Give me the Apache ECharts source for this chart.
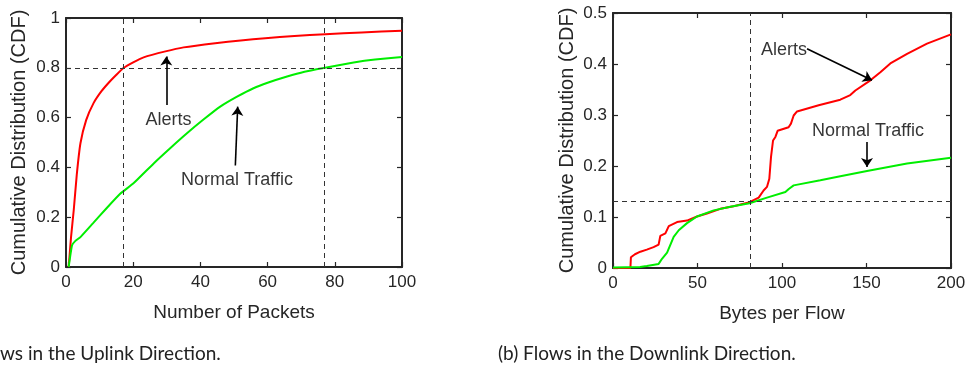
<!DOCTYPE html>
<html>
<head>
<meta charset="utf-8">
<script src="https://cdn.jsdelivr.net/npm/echarts@6/dist/echarts.min.js"></script>
<style>
  html, body { margin: 0; padding: 0; background: #fff; }
  #chart { width: 971px; height: 366px; }
</style>
</head>
<body>
<div id="chart"></div>
<script>
// (a) uplink: number of packets
const alertsUpX = [0.8, 1.5, 2.3, 3.2, 4.3, 6, 8.2, 10.5, 12.7, 15, 17.1, 20, 23.1, 29.6, 35, 44.4, 52, 59.3, 68, 77.2, 88, 100];
const alertsUpY = [0, 0.12, 0.228, 0.37, 0.497, 0.59, 0.658, 0.705, 0.74, 0.772, 0.799, 0.822, 0.842, 0.866, 0.882, 0.899, 0.91, 0.919, 0.928, 0.935, 0.942, 0.949];
const normalUpX = [0.8, 1.8, 2.8, 4.3, 8, 12, 16.2, 20, 26.1, 31, 36, 41, 45.9, 50.9, 55.8, 60, 65.8, 71, 76.7, 85.6, 92, 100];
const normalUpY = [0, 0.087, 0.105, 0.12, 0.175, 0.235, 0.295, 0.335, 0.416, 0.477, 0.537, 0.593, 0.644, 0.684, 0.718, 0.74, 0.765, 0.784, 0.799, 0.821, 0.833, 0.843];
const upRefX = [17, 77];
const upRefY = [0.8];
const upNotes = ['Alerts', 'Normal Traffic'];
const upNoteX = [30.5, 50.9];
const upNoteY = [0.59, 0.349];
const upArrows = [[[29.85, 0.651], [29.85, 0.845]], [[50.4, 0.408], [51.1, 0.644]]];

// (b) downlink: bytes per flow
const alertsDnX = [0, 10.3, 10.6, 13, 16.2, 20, 24, 27, 28, 31, 33, 37.9, 43.8, 49.7, 55.6, 63.5, 71.4, 80.8, 86.2, 89.1, 91.1, 92.5, 93.5, 94.7, 96.1, 97.4, 103.9, 105.3, 106.9, 108.9, 121.7, 134.5, 140.4, 143.4, 152.3, 158.2, 164.1, 174, 185.8, 200];
const alertsDnY = [0, 0, 0.021, 0.027, 0.032, 0.036, 0.041, 0.046, 0.063, 0.068, 0.082, 0.09, 0.093, 0.101, 0.107, 0.116, 0.121, 0.129, 0.138, 0.152, 0.159, 0.175, 0.218, 0.25, 0.257, 0.269, 0.276, 0.283, 0.299, 0.307, 0.319, 0.33, 0.339, 0.348, 0.368, 0.384, 0.401, 0.42, 0.44, 0.458];
const normalDnX = [0, 16, 20, 27, 29, 32, 35.9, 38.9, 43.8, 49.7, 59.6, 69.4, 80.8, 91.1, 102, 104, 106.9, 122.7, 134.5, 150.3, 174, 200];
const normalDnY = [0.001, 0.002, 0.004, 0.008, 0.018, 0.03, 0.061, 0.074, 0.088, 0.101, 0.113, 0.12, 0.127, 0.138, 0.149, 0.155, 0.162, 0.172, 0.18, 0.19, 0.205, 0.216];
const dnRefX = [81];
const dnRefY = [0.128];
const dnNotes = ['Alerts', 'Normal Traffic'];
const dnNoteX = [101.2, 150.9];
const dnNoteY = [0.427, 0.269];
const dnArrows = [[[114.8, 0.43], [153.3, 0.368]], [[150.3, 0.247], [150.3, 0.198]]];

const captionA = 'ws in the Uplink Direction.';
const captionB = '(b) Flows in the Downlink Direction.';

const axisColor = '#262626';
const font = '"Liberation Sans", Arial, Helvetica, sans-serif';

function zip(xs, ys) {
  return xs.map((x, i) => [x, ys[i]]);
}

function xAxes(grid, max, interval, name) {
  const common = {
    gridIndex: grid, type: 'value', min: 0, max: max, interval: interval,
    axisLine: { show: true, onZero: false, lineStyle: { color: axisColor, width: 2 } },
    axisTick: { show: true, inside: true, length: 5, lineStyle: { color: axisColor, width: 1.2 } },
    splitLine: { show: false }
  };
  return [
    Object.assign({}, common, {
      position: 'bottom',
      axisLabel: { color: axisColor, fontSize: 17, fontFamily: font, margin: 7 },
      name: name, nameLocation: 'middle', nameGap: 36,
      nameTextStyle: { color: axisColor, fontSize: 19, fontFamily: font }
    }),
    Object.assign({}, common, { position: 'top', axisLabel: { show: false } })
  ];
}

function yAxes(grid, max, interval, gap) {
  const common = {
    gridIndex: grid, type: 'value', min: 0, max: max, interval: interval,
    axisLine: { show: true, onZero: false, lineStyle: { color: axisColor, width: 2 } },
    axisTick: { show: true, inside: true, length: 5, lineStyle: { color: axisColor, width: 1.2 } },
    splitLine: { show: false }
  };
  return [
    Object.assign({}, common, {
      position: 'left',
      axisLabel: { color: axisColor, fontSize: 17, fontFamily: font, margin: 6 },
      name: 'Cumulative Distribution (CDF)', nameLocation: 'middle', nameGap: gap,
      nameTextStyle: { color: axisColor, fontSize: 20, fontFamily: font }
    }),
    Object.assign({}, common, { position: 'right', axisLabel: { show: false } })
  ];
}

function curve(xi, yi, xs, ys, color, smooth) {
  return {
    type: 'line', xAxisIndex: xi, yAxisIndex: yi, data: zip(xs, ys),
    showSymbol: false, smooth: smooth,
    lineStyle: { color: color, width: 2 }, z: 3
  };
}

function refLines(xi, yi, xs, ys) {
  const data = xs.map(v => ({ xAxis: v })).concat(ys.map(v => ({ yAxis: v })));
  return {
    type: 'line', xAxisIndex: xi, yAxisIndex: yi, data: [],
    markLine: {
      silent: true, symbol: ['none', 'none'], label: { show: false },
      lineStyle: { color: '#333', type: [5, 4], width: 1 },
      data: data
    }
  };
}

function notes(xi, yi, names, xs, ys, arrows) {
  return {
    type: 'scatter', xAxisIndex: xi, yAxisIndex: yi, symbolSize: 0, z: 5,
    data: names.map((n, i) => ({ name: n, value: [xs[i], ys[i]] })),
    label: {
      show: true, position: 'inside', formatter: '{b}',
      color: '#000', fontSize: 18, fontFamily: font
    },
    markLine: {
      silent: true, symbol: ['none', 'arrow'], symbolSize: 9, label: { show: false },
      lineStyle: { color: '#000', type: 'solid', width: 1.6 },
      data: arrows.map(a => [{ coord: a[0] }, { coord: a[1] }])
    }
  };
}

const chart = echarts.init(document.getElementById('chart'), null, { renderer: 'canvas' });
chart.setOption({
  animation: false,
  backgroundColor: '#fff',
  grid: [
    { left: 66, top: 18, width: 336, height: 249 },
    { left: 613, top: 13, width: 338, height: 255 }
  ],
  xAxis: xAxes(0, 100, 20, 'Number of Packets').concat(xAxes(1, 200, 50, 'Bytes per Flow')),
  yAxis: yAxes(0, 1, 0.2, 37).concat(yAxes(1, 0.5, 0.1, 36)),
  series: [
    refLines(0, 0, upRefX, upRefY),
    curve(0, 0, alertsUpX, alertsUpY, '#ff0000', 0.15),
    curve(0, 0, normalUpX, normalUpY, '#00ee00', 0.15),
    notes(0, 0, upNotes, upNoteX, upNoteY, upArrows),
    refLines(2, 2, dnRefX, dnRefY),
    curve(2, 2, alertsDnX, alertsDnY, '#ff0000', false),
    curve(2, 2, normalDnX, normalDnY, '#00ee00', false),
    notes(2, 2, dnNotes, dnNoteX, dnNoteY, dnArrows)
  ],
  graphic: [
    { type: 'text', left: 0, top: 344, style: { text: captionA, fill: '#222', font: '19px Lato, "Open Sans", sans-serif' } },
    { type: 'text', left: 498, top: 344, style: { text: captionB, fill: '#222', font: '19px Lato, "Open Sans", sans-serif' } }
  ]
});
</script>
</body>
</html>
